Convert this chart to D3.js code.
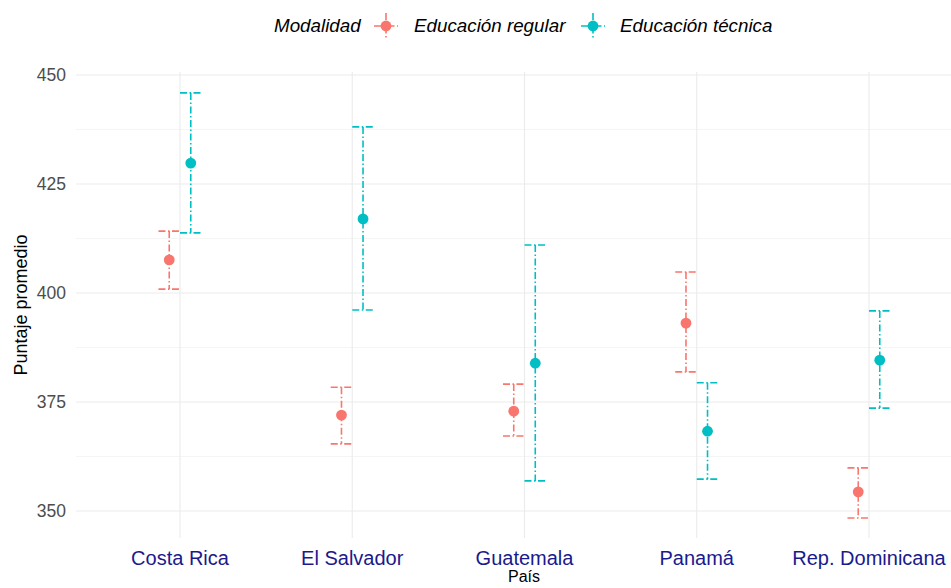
<!DOCTYPE html>
<html>
<head>
<meta charset="utf-8">
<script src="https://cdn.jsdelivr.net/npm/d3@7"></script>
<style>
  body { margin: 0; background: #fff; }
  svg { display: block; font-family: "Liberation Sans", Arial, sans-serif; }
</style>
</head>
<body>
<svg id="chart" width="951" height="588"></svg>
<script>
// ---- data ----
const paises = ["Costa Rica", "El Salvador", "Guatemala", "Panamá", "Rep. Dominicana"];
const modalidades = ["Educación regular", "Educación técnica"];
const regularMedia = [407.6, 372.0, 372.9, 393.1, 354.4];
const regularInf   = [400.9, 365.4, 367.2, 381.9, 348.4];
const regularSup   = [414.2, 378.4, 379.1, 404.8, 359.9];
const tecnicaMedia = [429.8, 417.0, 383.9, 368.3, 384.6];
const tecnicaInf   = [413.8, 396.1, 356.9, 357.3, 373.6];
const tecnicaSup   = [445.9, 438.1, 411.0, 379.4, 395.9];
const yTicks = [350, 375, 400, 425, 450];
const yMinor = [362.5, 387.5, 412.5, 437.5];
const colores = ["#F8766D", "#00BFC4"];

const rows = [];
paises.forEach((p, i) => {
  rows.push({pais: p, mod: modalidades[0], m: regularMedia[i], lo: regularInf[i], hi: regularSup[i]});
  rows.push({pais: p, mod: modalidades[1], m: tecnicaMedia[i], lo: tecnicaInf[i], hi: tecnicaSup[i]});
});

const svg = d3.select("#chart");
const panel = {left: 76, top: 72, right: 972, bottom: 538};

const x = d3.scalePoint().domain(paises).range([180, 869]);
const step = x.step();
const y = d3.scaleLinear().domain([350, 450]).range([511, 75]);
const color = d3.scaleOrdinal().domain(modalidades).range(colores);
const dodge = d3.scalePoint().domain(modalidades).range([-0.0625 * step, 0.0625 * step]);
const capHalf = 0.0625 * step;

svg.append("defs").append("clipPath").attr("id", "clip")
  .append("rect").attr("x", panel.left).attr("y", panel.top)
  .attr("width", 951 - panel.left).attr("height", panel.bottom - panel.top);

const g = svg.append("g").attr("clip-path", "url(#clip)");

// grid
g.selectAll(".ymin").data(yMinor).join("line")
  .attr("x1", panel.left).attr("x2", 951)
  .attr("y1", d => y(d)).attr("y2", d => y(d))
  .attr("stroke", "#F2F2F2").attr("stroke-width", 0.8);
g.selectAll(".ymaj").data(yTicks).join("line")
  .attr("x1", panel.left).attr("x2", 951)
  .attr("y1", d => y(d)).attr("y2", d => y(d))
  .attr("stroke", "#EBEBEB").attr("stroke-width", 1.1);
g.selectAll(".xmaj").data(paises).join("line")
  .attr("x1", d => x(d)).attr("x2", d => x(d))
  .attr("y1", panel.top).attr("y2", panel.bottom)
  .attr("stroke", "#EBEBEB").attr("stroke-width", 1.1);

const dash = "7,2.5,1.5,2.5";

// error bars
const eb = g.selectAll(".eb").data(rows).join("g")
  .attr("stroke", d => color(d.mod)).attr("stroke-width", 1.6)
  .attr("stroke-dasharray", dash).attr("fill", "none");
eb.append("line")
  .attr("x1", d => x(d.pais) + dodge(d.mod)).attr("x2", d => x(d.pais) + dodge(d.mod))
  .attr("y1", d => y(d.hi)).attr("y2", d => y(d.lo));
eb.append("line")
  .attr("x1", d => x(d.pais) + dodge(d.mod) - capHalf).attr("x2", d => x(d.pais) + dodge(d.mod) + capHalf)
  .attr("y1", d => y(d.hi)).attr("y2", d => y(d.hi));
eb.append("line")
  .attr("x1", d => x(d.pais) + dodge(d.mod) - capHalf).attr("x2", d => x(d.pais) + dodge(d.mod) + capHalf)
  .attr("y1", d => y(d.lo)).attr("y2", d => y(d.lo));

// points
g.selectAll(".pt").data(rows).join("circle")
  .attr("cx", d => x(d.pais) + dodge(d.mod)).attr("cy", d => y(d.m))
  .attr("r", 5.4).attr("fill", d => color(d.mod));

// y axis labels
svg.selectAll(".ylab").data(yTicks).join("text")
  .attr("x", 66).attr("y", d => y(d)).attr("dy", "0.35em")
  .attr("text-anchor", "end").attr("fill", "#4D4D4D").attr("font-size", 17.5)
  .text(d => d);

// x axis labels
svg.selectAll(".xlab").data(paises).join("text")
  .attr("x", d => x(d)).attr("y", 565)
  .attr("text-anchor", "middle").attr("fill", "#1A1A8C").attr("font-size", 20)
  .text(d => d);

// axis titles
svg.append("text").attr("x", 524).attr("y", 582).attr("text-anchor", "middle")
  .attr("font-size", 16).attr("fill", "#000").text("País");
svg.append("text").attr("transform", "translate(27,305) rotate(-90)")
  .attr("text-anchor", "middle").attr("font-size", 18).attr("fill", "#000")
  .text("Puntaje promedio");

// legend
const lg = svg.append("g").attr("font-style", "italic").attr("font-size", 18.8);
lg.append("text").attr("x", 274).attr("y", 32).attr("fill", "#000").text("Modalidad");
const keys = [{mod: modalidades[0], kx: 386, tx: 414}, {mod: modalidades[1], kx: 593, tx: 620}];
keys.forEach(k => {
  const c = color(k.mod);
  lg.append("line").attr("x1", k.kx - 12).attr("x2", k.kx + 12).attr("y1", 26).attr("y2", 26)
    .attr("stroke", c).attr("stroke-width", 1.6).attr("stroke-dasharray", dash);
  lg.append("line").attr("x1", k.kx).attr("x2", k.kx).attr("y1", 13).attr("y2", 39)
    .attr("stroke", c).attr("stroke-width", 1.6).attr("stroke-dasharray", dash);
  lg.append("circle").attr("cx", k.kx).attr("cy", 26).attr("r", 5.4).attr("fill", c);
  lg.append("text").attr("x", k.tx).attr("y", 32).attr("fill", "#000").text(k.mod);
});
</script>
</body>
</html>
